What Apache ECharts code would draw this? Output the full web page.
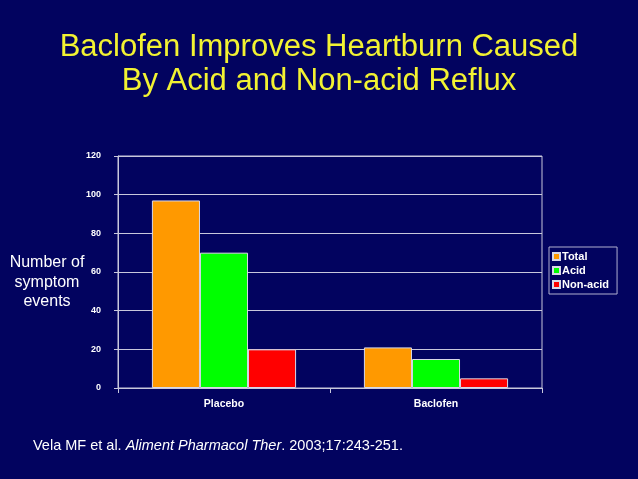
<!DOCTYPE html>
<html><head><meta charset="utf-8">
<script src="https://cdn.jsdelivr.net/npm/echarts@6/dist/echarts.min.js"></script>
<style>html,body{margin:0;padding:0;background:#02035f;}#c{width:638px;height:479px;}</style>
</head><body><div id="c"></div>
<script>
const categories = ['Placebo', 'Baclofen'];
const seriesNames = ['Total', 'Acid', 'Non-acid'];
const totalValues = [97, 21];
const acidValues = [70, 15];
const nonAcidValues = [20, 5];
const yTicks = [0, 20, 40, 60, 80, 100, 120];

const colors = ['#ff9900', '#00ff00', '#ff0000'];
const chart = echarts.init(document.getElementById('c'));
const mk = (name, data, i) => ({
  name, type: 'bar', data, barGap: '0%', barCategoryGap: '32%',
  itemStyle: { color: colors[i], borderColor: '#d8d8e8', borderWidth: 1 }
});
chart.setOption({
  backgroundColor: '#02035f',
  animation: false,
  title: {
    text: 'Baclofen Improves Heartburn Caused\nBy Acid and Non-acid Reflux',
    left: 'center', top: 25,
    textStyle: { color: '#f2f232', fontFamily: 'Liberation Sans, Arial', fontWeight: 'normal', fontSize: 31, lineHeight: 34 }
  },
  legend: {
    orient: 'vertical', left: 549, top: 247,
    data: seriesNames,
    itemWidth: 7, itemHeight: 7, itemGap: 3,
    icon: 'rect',
    borderColor: '#b0b0d0', borderWidth: 1, padding: [4, 8, 4, 3],
    textStyle: { color: '#ffffff', fontFamily: 'Liberation Sans, Arial', fontWeight: 'bold', fontSize: 11, padding: [0, 0, 0, -3] }
  },
  grid: { left: 118, right: 96, top: 156, bottom: 91, show: true, borderColor: '#c8c8dc', borderWidth: 1, backgroundColor: 'transparent' },
  xAxis: {
    type: 'category', data: categories,
    axisLine: { lineStyle: { color: '#c8c8dc' } },
    axisTick: { show: true, alignWithLabel: false, lineStyle: { color: '#c8c8dc' } },
    axisLabel: { color: '#ffffff', fontFamily: 'Liberation Sans, Arial', fontWeight: 'bold', fontSize: 10.5, margin: 11 }
  },
  yAxis: {
    type: 'value', min: yTicks[0], max: yTicks[yTicks.length - 1], interval: 20,
    axisLine: { show: true, lineStyle: { color: '#c8c8dc' } },
    axisTick: { show: true, length: 4, lineStyle: { color: '#c8c8dc' } },
    splitLine: { lineStyle: { color: '#c8c8dc' } },
    axisLabel: { color: '#ffffff', fontFamily: 'Liberation Sans, Arial', fontWeight: 'bold', fontSize: 9, margin: 17 }
  },
  graphic: [
    { type: 'text', x: 47, y: 253,
      style: { text: 'Number of\nsymptom\nevents', fill: '#ffffff', font: '16px Liberation Sans, Arial', align: 'center', lineHeight: 19.5 } },
    { type: 'text', x: 33, y: 438,
      style: { rich: { n: { fill: '#ffffff', font: '14.5px Liberation Sans, Arial' }, i: { fill: '#ffffff', font: 'italic 14.5px Liberation Sans, Arial' } },
        text: '{n|Vela MF et al. }{i|Aliment Pharmacol Ther}{n|. 2003;17:243-251.}' } }
  ],
  series: [mk(seriesNames[0], totalValues, 0), mk(seriesNames[1], acidValues, 1), mk(seriesNames[2], nonAcidValues, 2)]
});
</script></body></html>
